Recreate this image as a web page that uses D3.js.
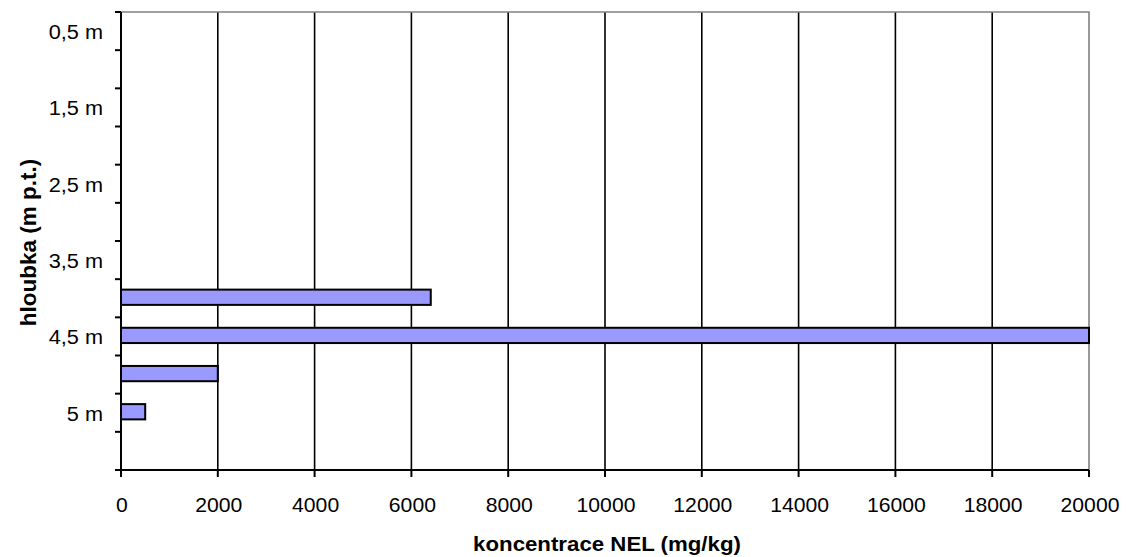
<!DOCTYPE html>
<html>
<head>
<meta charset="utf-8">
<script src="https://cdn.jsdelivr.net/npm/d3@7"></script>
<style>
  html, body { margin: 0; padding: 0; background: #fff; }
  svg { display: block; font-family: "Liberation Sans", Arial, sans-serif; }
</style>
</head>
<body>
<svg id="chart" width="1126" height="557"></svg>
<script>
// ---- data ----
const categories = ["0,5 m", "1 m", "1,5 m", "2 m", "2,5 m", "3 m", "3,5 m", "4 m", "4,5 m", "4,8 m", "5 m", "5,5 m"];
const shownLabels = ["0,5 m", "1,5 m", "2,5 m", "3,5 m", "4,5 m", "5 m"];
const values = [null, null, null, null, null, null, null, 6400, 20000, 2000, 500, null];
const xTicks = [0, 2000, 4000, 6000, 8000, 10000, 12000, 14000, 16000, 18000, 20000];
const xTitle = "koncentrace NEL (mg/kg)";
const yTitle = "hloubka (m p.t.)";

// ---- layout ----
const pL = 121, pR = 1089, pT = 12, pB = 470;
const svg = d3.select("#chart");
const sx = 1.06; // slight horizontal text stretch seen in reference

const x = d3.scaleLinear().domain([0, 20000]).range([pL, pR]);
const y = d3.scaleBand().domain(categories).range([pT, pB]).paddingInner(0.6).paddingOuter(0.3);

// gridlines
svg.append("g").selectAll("line")
  .data(xTicks.filter(v => v > 0 && v < 20000))
  .join("line")
  .attr("x1", d => x(d)).attr("x2", d => x(d))
  .attr("y1", pT).attr("y2", pB)
  .attr("stroke", "#000").attr("stroke-width", 1.6);

// plot border (top + right, gray)
svg.append("path")
  .attr("d", `M${pL},${pT}H${pR}V${pB}`)
  .attr("fill", "none").attr("stroke", "#808080").attr("stroke-width", 1.6);

// bars
const data = categories.map((c, i) => ({ c, v: values[i] })).filter(d => d.v != null);
svg.append("g").selectAll("rect")
  .data(data)
  .join("rect")
  .attr("x", x(0))
  .attr("y", d => y(d.c) - 1)
  .attr("width", d => x(d.v) - x(0))
  .attr("height", y.bandwidth())
  .attr("fill", "#9999FF")
  .attr("stroke", "#000").attr("stroke-width", 2);

// y axis (category boundaries as ticks)
const step = y.step();
const yAxis = svg.append("g");
yAxis.append("line").attr("x1", pL).attr("x2", pL).attr("y1", pT).attr("y2", pB)
  .attr("stroke", "#000").attr("stroke-width", 2);
yAxis.selectAll("line.tk")
  .data(d3.range(categories.length + 1))
  .join("line").attr("class", "tk")
  .attr("x1", pL - 6).attr("x2", pL)
  .attr("y1", i => pT + i * step).attr("y2", i => pT + i * step)
  .attr("stroke", "#000").attr("stroke-width", 2);
yAxis.selectAll("text")
  .data(categories.filter(c => shownLabels.includes(c)))
  .join("text")
  .attr("transform", c => `translate(103,${y(c) + y.bandwidth() / 2 + 8}) scale(${sx},1)`)
  .attr("text-anchor", "end")
  .attr("font-size", 20.5)
  .attr("fill", "#000")
  .text(c => c);

// x axis
const xAxis = svg.append("g");
xAxis.append("line").attr("x1", pL - 6).attr("x2", pR).attr("y1", pB).attr("y2", pB)
  .attr("stroke", "#000").attr("stroke-width", 2);
xAxis.selectAll("line.tk")
  .data(xTicks)
  .join("line").attr("class", "tk")
  .attr("x1", d => x(d)).attr("x2", d => x(d))
  .attr("y1", pB).attr("y2", pB + 7)
  .attr("stroke", "#000").attr("stroke-width", 2);
xAxis.selectAll("text")
  .data(xTicks)
  .join("text")
  .attr("transform", d => `translate(${x(d) + 1},512) scale(${sx},1)`)
  .attr("text-anchor", "middle")
  .attr("font-size", 20)
  .attr("fill", "#000")
  .text(d => d);

// titles
svg.append("text")
  .attr("transform", `translate(${(pL + pR) / 2 + 2},551) scale(${sx},1)`)
  .attr("text-anchor", "middle")
  .attr("font-size", 21).attr("font-weight", "bold")
  .text(xTitle);

svg.append("text")
  .attr("transform", `translate(36,242.5) rotate(-90)`)
  .attr("text-anchor", "middle")
  .attr("font-size", 22.5).attr("font-weight", "bold")
  .text(yTitle);
</script>
</body>
</html>
